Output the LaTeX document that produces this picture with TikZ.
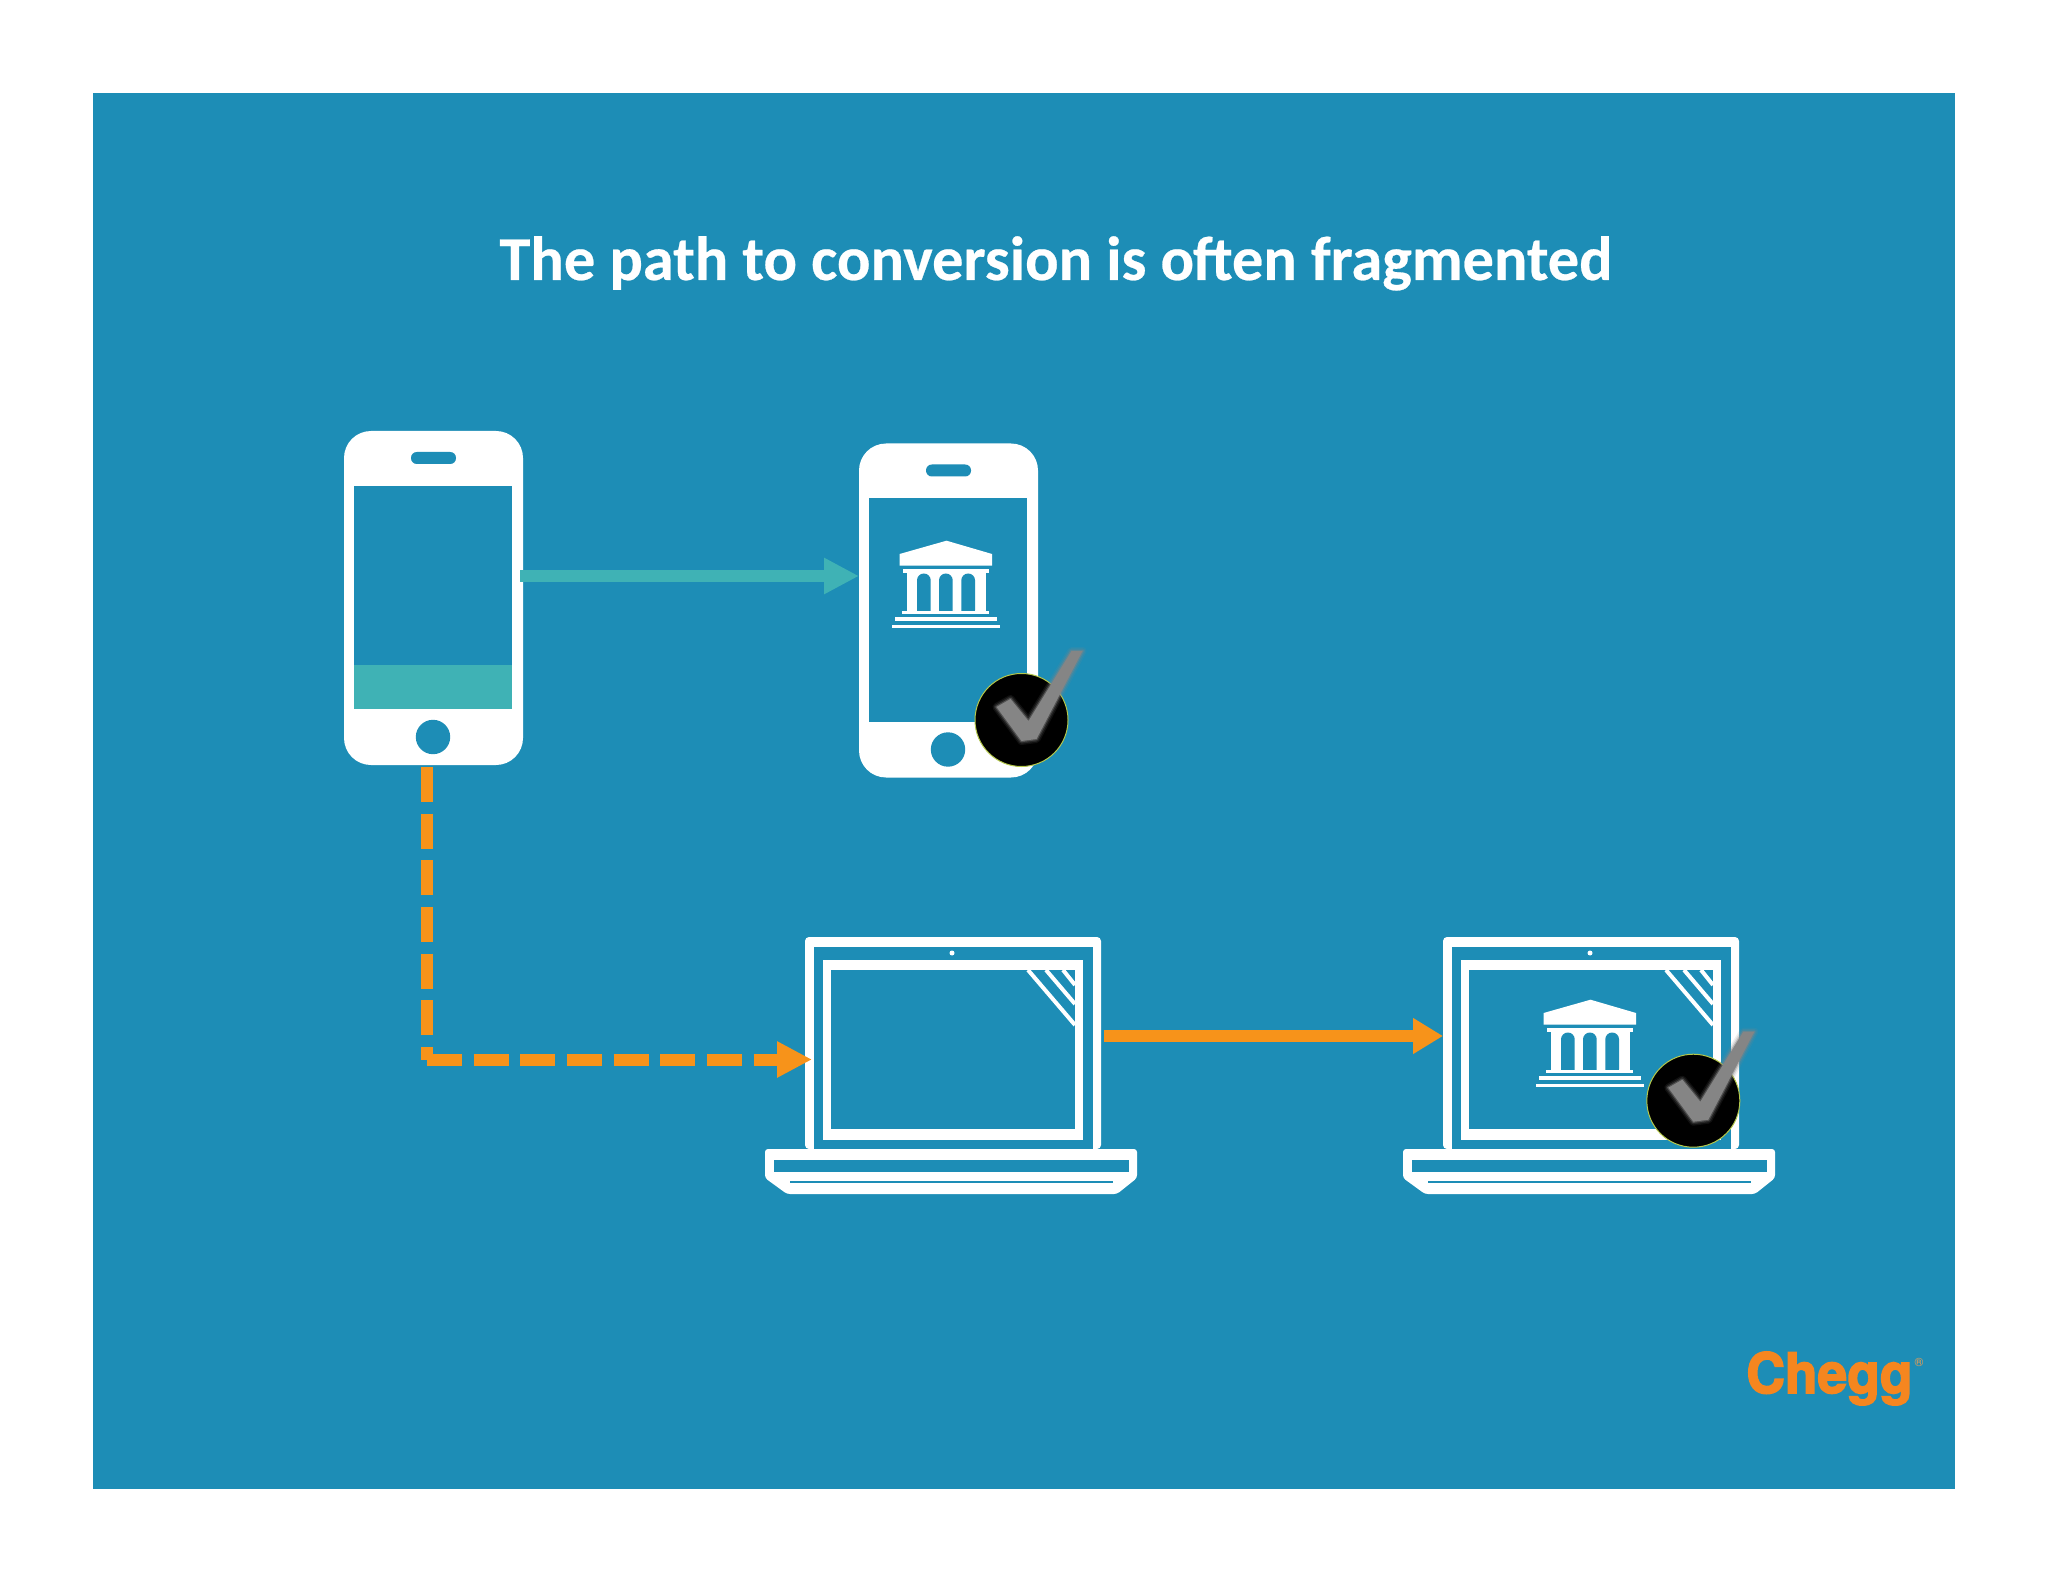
\documentclass[tikz,border=0pt]{standalone}
\usepackage{fontspec}
\setmainfont[BoldFeatures={FakeBold=0.4}]{Carlito}
\newfontfamily\logofont[BoldFeatures={FakeBold=3}]{TeX Gyre Heros}
\usetikzlibrary{arrows.meta,calc}
\definecolor{bgblue}{HTML}{1D8DB6}
\definecolor{tealc}{HTML}{3FB2B5}
\definecolor{orangec}{HTML}{F7931A}
\definecolor{logoc}{HTML}{F5861F}
\definecolor{checkc}{HTML}{858585}
\definecolor{ringc}{HTML}{B4C84C}
\tikzset{
  phonebody/.style={fill=white,rounded corners=13.5pt,minimum width=89.5pt,minimum height=167pt,inner sep=0pt,outer sep=0pt},
  lidbody/.style={fill=white,rounded corners=2pt,minimum width=148pt,minimum height=106pt,inner sep=0pt,outer sep=0pt},
  okdisc/.style={circle,fill=black,draw=ringc,line width=0.5pt,inner sep=0pt,minimum size=46.5pt},
  tealarrow/.style={draw=tealc,line width=6pt,-{Triangle[length=17.5pt,width=17pt]}},
  orangearrow/.style={draw=orangec,line width=6pt,-{Triangle[length=15pt,width=17pt]}},
  dashpart/.style={draw=orangec,line width=6pt,dash pattern=on 17.5pt off 5.83pt},
  titletext/.style={text=white,font=\bfseries\fontsize{31.2}{34}\selectfont,anchor=base,inner sep=0pt},
  refl/.style={draw=white,line width=2pt},
}
\newcommand{\bankicon}{%
  \fill[white] (946.5,540.7) -- (992,554) -- (992,565.7) -- (899.6,565.7) -- (899.6,554) -- cycle;
  \fill[white] (903,569.3) rectangle (989.4,573.3);
  \fill[white] (906.7,573) rectangle (985.8,611);
  \foreach \xa/\xb in {917/930.7,939/952.7,961.3/975}{
    \fill[bgblue,rounded corners=3.4pt] (\xa,617) -- (\xa,573.5) -- (\xb,573.5) -- (\xb,617) -- cycle;
  }
  \fill[white] (901.6,610.7) rectangle (989.4,613.5);
  \fill[white] (895,617.3) rectangle (996.5,620.7);
  \fill[white] (892,625) rectangle (1000,628);
}
\newcommand{\phonedevice}[3]{%
  \begin{scope}[shift={(#2,#3)}]
    \node[phonebody] (#1) at (433.5,598) {};
    \fill[bgblue] (354,486) rectangle (512,709);
    \fill[bgblue,rounded corners=2.9pt] (411,452) rectangle (456,464);
    \fill[bgblue] (433,737) circle[radius=17.2];
  \end{scope}}
\newcommand{\laptopdevice}[3]{%
  \begin{scope}[shift={(#2,#3)}]
    \node[lidbody] (#1) at (953,1043) {};
    \fill[bgblue] (813.5,947) rectangle (1093,1150);
    \fill[white] (823,960) rectangle (1083,1140);
    \fill[bgblue] (831,970) rectangle (1075,1129);
    \fill[white] (952,953) circle[radius=2.5];
    \begin{scope}
      \clip (823,970) rectangle (1075,1129);
      \draw[refl] (1028,970) -- (1075,1025);
      \draw[refl] (1046,970) -- (1075,1004);
      \draw[refl] (1063,970) -- (1075,985);
    \end{scope}
    \fill[white,rounded corners=1.5pt] (765,1149) -- (1137,1149) -- (1137,1178) -- (1117,1194) -- (787,1194) -- (765,1178) -- cycle;
    \fill[bgblue] (773.5,1160) rectangle (1129,1172);
    \fill[bgblue] (790,1181.3) rectangle (1113,1183);
  \end{scope}}
\newcommand{\okmark}[3]{%
  \begin{scope}[shift={(#2,#3)}]
    \node[okdisc] (#1) at (0,0) {};
    \foreach \lw/\op in {4pt/.12,2.6pt/.2,1.2pt/.45}{
      \draw[checkc,opacity=\op,line width=\lw,line join=round] (-25,-13) -- (-11,-21) -- (7,1) -- (50,-69) -- (61,-69) -- (15,19) -- (0,21) -- cycle;
    }
    \fill[checkc] (-25,-13) -- (-11,-21) -- (7,1) -- (50,-69) -- (61,-69) -- (15,19) -- (0,21) -- cycle;
  \end{scope}}
\begin{document}
\begin{tikzpicture}[x=0.5pt,y=-0.5pt]
  \useasboundingbox (0,0) rectangle (2048,1582);
  \fill[white] (0,0) rectangle (2048,1582);
  \fill[bgblue] (93,93) rectangle (1955,1489);

  \node[titletext] (title) at (1056,280) {The path to conversion is o\kern-0.6pt ften fragmented};

  \phonedevice{phoneA}{0}{0}
  \phonedevice{phoneB}{515}{12.5}
  \fill[tealc] (354,665) rectangle (512,709);
  \bankicon
  \laptopdevice{lapA}{0}{0}
  \laptopdevice{lapB}{638}{0}
  \begin{scope}[shift={(644,459)}]\bankicon\end{scope}

  \coordinate (tealY) at (0,576);
  \coordinate (solidY) at (0,1036);
  \coordinate (dashTop) at (427,767);
  \coordinate (dashCorner) at (427,1059.5);

  \draw[tealarrow] ([xshift=-1.5pt]phoneA.east |- tealY) -- (phoneB.west |- tealY);
  \draw[orangearrow] ([xshift=1.5pt]lapA.east |- solidY) -- (lapB.west |- solidY);
  \draw[dashpart] (dashTop) -- (dashCorner);
  \draw[dashpart,-{Triangle[length=17.5pt,width=17pt]}] (dashCorner) -- ([xshift=3.5pt]lapA.west |- dashCorner);

  \okmark{okA}{1021.5}{720}
  \okmark{okB}{1693.3}{1100.7}

  \node[anchor=base west,inner sep=0pt,text=logoc,font=\logofont\bfseries\fontsize{27.8}{30}\selectfont,xscale=.96] (logo) at (1746,1393) {Chegg};
  \node[inner sep=0pt,text=logoc!80!white,font=\logofont\fontsize{6}{6}\selectfont] (logomark) at (1919,1362) {®};
\end{tikzpicture}
\end{document}
